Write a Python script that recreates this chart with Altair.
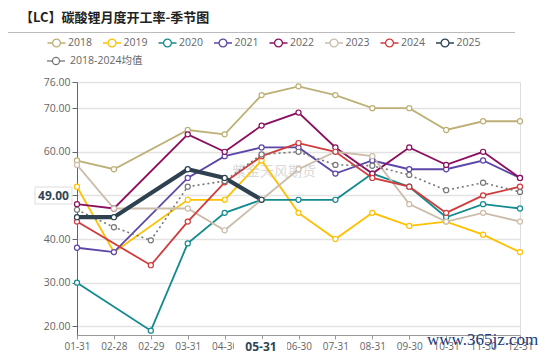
import altair as alt
import pandas as pd

dates = ["01-31", "02-28", "02-29", "03-31", "04-30", "05-31", "06-30",
         "07-31", "08-31", "09-30", "10-31", "11-30", "12-31"]

series_names = ["2018", "2019", "2020", "2021", "2022", "2023", "2024", "2025", "2018-2024均值"]
colors = ["#BDB076", "#FFC000", "#138A8F", "#5C46A8", "#8B0F5E", "#CBBDAA", "#D13B3B", "#2D4150", "#777777"]
year_names = series_names[:8]
avg_name = series_names[8]

v2018 = [58, 56, None, 65, 64, 73, 75, 73, 70, 70, 65, 67, 67]
v2019 = [52, 37, None, 49, 49, 58, 46, 40, 46, 43, 44, 41, 37]
v2020 = [30, None, 19, 39, 46, 49, 49, 49, 55, 52, 45, 48, 47]
v2021 = [38, 37, None, 54, 59, 61, 61, 55, 58, 56, 56, 58, 54]
v2022 = [48, 47, None, 64, 60, 66, 69, 61, 55, 61, 57, 60, 54]
v2023 = [57, 47, None, 47, 42, 49, 56, 60, 59, 48, 44, 46, 44]
v2024 = [44, None, 34, 44, 53, 59, 62, 60, 54, 52, 46, 50, 52]
v2025 = [45, 45, None, 56, 54, 49, None, None, None, None, None, None, None]
vavg = [46.7, 42.7, 39.7, 52.0, 53.3, 59.4, 60.0, 57.0, 56.8, 54.7, 51.2, 52.9, 50.8]

y_ticks = [20, 30, 40, 50, 60, 70, 76]

draw_order = ["2018", "2019", "2020", "2021", "2022", "2023", "2024", "2018-2024均值", "2025"]
vals_by_name = dict(zip(series_names, [v2018, v2019, v2020, v2021, v2022, v2023, v2024, v2025, vavg]))

rows = []
for name in draw_order:
    for d, v in zip(dates, vals_by_name[name]):
        if v is not None:
            rows.append({"series": name, "date": d, "value": v})
df = pd.DataFrame(rows)

FONT = "Open Sans, Noto Sans CJK SC, sans-serif"
CJK = "Noto Sans CJK SC"

sym_path = ("M-1.6,0H-0.7M0.7,0H1.6"
            "M0.7,0A0.7,0.7,0,1,1,-0.7,0A0.7,0.7,0,1,1,0.7,0Z")

legend = alt.Legend(
    orient="none", legendX=-27, legendY=-46, direction="horizontal",
    values=year_names, title=None,
    labelFont=FONT, labelFontSize=10.5, labelColor="#666666",
    symbolType=sym_path, symbolSize=127, symbolStrokeWidth=1.3,
    symbolFillColor="white", labelOffset=5, columnPadding=6.5,
    padding=0,
)

color = alt.Color("series:N", scale=alt.Scale(domain=series_names, range=colors),
                  legend=legend)

x = alt.X("date:O", sort=dates, scale=alt.Scale(domain=dates, padding=0),
          axis=alt.Axis(title=None, labelAngle=0, labelFont=FONT, labelFontSize=10,
                        labelColor="#666666", domainColor="#999999", tickColor="#999999",
                        tickSize=4, labelPadding=2, grid=False, labelOverlap=False))
y = alt.Y("value:Q", scale=alt.Scale(domain=[18, 76], nice=False, zero=False),
          axis=alt.Axis(title=None, values=y_ticks, format=".2f", labelFont=FONT,
                        labelFontSize=10.5, labelColor="#666666", domainColor="#666666",
                        tickColor="#666666", tickSize=5, labelPadding=2,
                        gridColor="#E3E3E3", gridWidth=1.5))

base = alt.Chart(df)

lines_reg = base.mark_line(strokeWidth=1.8).encode(x=x, y=y, color=color).transform_filter(
    alt.FieldOneOfPredicate(field="series", oneOf=series_names[:7]))
lines_avg = base.mark_line(strokeWidth=1.6, strokeDash=[2, 3]).encode(
    x=x, y=y, color=color).transform_filter(alt.datum.series == avg_name)
lines_25 = base.mark_line(strokeWidth=4.2).encode(
    x=x, y=y, color=color).transform_filter(alt.datum.series == "2025")

points = base.mark_point(shape="circle", filled=False, fill="white", fillOpacity=1,
                         size=26, strokeWidth=1.2, opacity=1).encode(
    x=x, y=y, color=color,
)

# annotations
ann = pd.DataFrame({"t": [0]})
a = alt.Chart(ann)
title = a.mark_text(text="【LC】碳酸锂月度开工率-季节图", font=CJK, fontSize=13,
                    fontWeight="bold", color="#222222", align="left", baseline="middle").encode(
    x=alt.value(-57), y=alt.value(-64))
title_rule = a.mark_rule(color="#BBBBBB", strokeWidth=1).encode(
    x=alt.value(-69), x2=alt.value(438), y=alt.value(-49.5))

# legend entry for the average (second row)
avg_rule = a.mark_rule(color="#777777", strokeWidth=1.3).encode(
    x=alt.value(-30), x2=alt.value(-12), y=alt.value(-21))
avg_pt = a.mark_point(shape="circle", filled=False, fill="white", fillOpacity=1,
                      color="#777777", size=50, strokeWidth=1.3).encode(
    x=alt.value(-21), y=alt.value(-21))
avg_txt = a.mark_text(text=avg_name, font=FONT, fontSize=10.5, color="#666666",
                      align="left", baseline="middle").encode(
    x=alt.value(-7), y=alt.value(-21))

wm = a.mark_text(text="紫金天风期货", font=CJK, fontSize=14, color="#D0D0D0",
                 opacity=0.8, align="center", baseline="middle").encode(
    x=alt.value(197), y=alt.value(90))
ybox = a.mark_rect(fill="white", stroke="#DDDDDD", strokeWidth=1).encode(
    x=alt.value(-42), x2=alt.value(-5), y=alt.value(105), y2=alt.value(122))
ytxt = a.mark_text(text="49.00", font=FONT, fontSize=12, fontWeight="bold",
                   color="#2F4554", align="center", baseline="middle").encode(
    x=alt.value(-23.5), y=alt.value(114))
xbox = a.mark_rect(fill="white").encode(
    x=alt.value(157), x2=alt.value(210), y=alt.value(257), y2=alt.value(272))
xtxt = a.mark_text(text="05-31", font=FONT, fontSize=12, fontWeight="bold",
                   color="#2F4554", align="center", baseline="middle").encode(
    x=alt.value(184), y=alt.value(265))
site = a.mark_text(text="www.365jz.com", font="Liberation Serif", fontSize=17,
                   color="#1B3A7A", align="left", baseline="middle").encode(
    x=alt.value(350), y=alt.value(258))

chart = alt.layer(
    title_rule, title, avg_rule, avg_pt, avg_txt, wm,
    lines_reg, lines_avg, lines_25, points,
    ybox, ytxt, xbox, xtxt, site
).properties(
    width=443, height=253,
    autosize=alt.AutoSizeParams(type="none"),
    padding={"left": 77, "top": 82, "right": 30, "bottom": 20},
).configure_view(stroke=None).configure(background="white")

chart.save("out.html", embed_options={"renderer": "svg", "actions": False})
